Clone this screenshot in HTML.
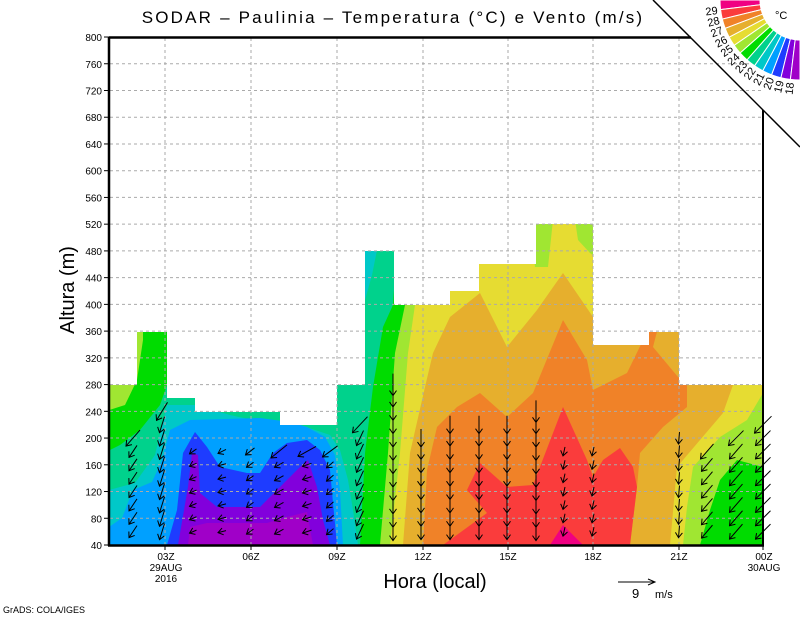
<!DOCTYPE html>
<html><head><meta charset="utf-8"><style>
html,body{margin:0;padding:0;background:#fff}
svg{display:block}
text{font-family:"Liberation Sans","DejaVu Sans",sans-serif;fill:#000}
</style></head><body>
<svg id="s" width="800" height="618" viewBox="0 0 800 618" xmlns="http://www.w3.org/2000/svg">
<defs>
<clipPath id="c">
<polygon points="109,545 109,385 137,385 137,332 167,332 167,398 195,398 195,412 280,412 280,425 337,425 337,385 365,385 365,251 394,251 394,305 450,305 450,291 479,291 479,264 536,264 536,224 593,224 593,345 649,345 649,332 679,332 679,385 763,385 763,545"/>
</clipPath>
</defs>
<g clip-path="url(#c)">
<rect x="109" y="200" width="660" height="350" fill="#00d28c"/>
<polygon fill="#00dc00" points="100,385 100,455 120,445 140,430 160,405 167,385 167,320 137,320"/>
<polygon fill="#a0e632" points="100,380 100,413 125,405 137,380 143,340 143,320 137,320"/>
<polygon fill="#00c8c8" points="109,490 135,483 155,455 167,405 195,405 230,415 262,422 300,425 330,435 340,450 348,480 353,510 358,545 109,545"/>
<polygon fill="#00a0ff" points="109,527 122,518 133,490 152,482 162,460 170,430 190,420 260,418 290,422 307,427 325,437 335,455 340,490 343,545 109,545"/>
<polygon fill="#1e3cff" points="167,545 177,510 183,453 195,432 207,447 220,467 247,473 260,473 273,453 287,443 307,440 320,450 330,470 333,503 337,545"/>
<polygon fill="#8200dc" points="178,545 188,487 192,453 198,455 200,493 217,507 260,507 280,487 300,467 308,460 317,487 323,520 330,545"/>
<polygon fill="#a000c8" points="188,545 190,527 207,523 267,523 287,517 307,512 313,545"/>
<polygon fill="#00c8c8" points="365,245 378,245 372,275 365,300"/>
<polygon fill="#00dc00" points="393,305 383,327 373,387 365,453 360,545 770,545 770,200 400,200"/>
<polygon fill="#a0e632" points="405,305 395,353 388,453 380,545 770,545 770,200 410,200"/>
<polygon fill="#e6dc32" points="415,305 408,353 400,453 390,545 770,545 770,200 420,200"/>
<polygon fill="#a0e632" points="530,220 553,220 548,267 535,267"/>
<polygon fill="#a0e632" points="575,220 600,220 600,260 590,253 578,240"/>
<polygon fill="#e6af2d" points="403,545 410,453 425,387 433,353 450,317 480,293 507,347 537,310 563,273 593,317 593,300 700,300 733,385 723,413 700,440 677,467 670,545"/>
<polygon fill="#f08228" points="423,545 427,470 437,427 457,407 480,393 507,417 533,393 563,320 587,360 593,390 627,373 648,330 660,320 653,347 678,377 687,383 687,407 663,427 640,453 637,487 630,545"/>
<polygon fill="#fa3c3c" points="443,545 487,513 467,490 480,463 507,487 533,485 563,407 587,460 593,477 603,460 620,448 633,467 637,487 630,545"/>
<polygon fill="#f00082" points="550,545 563,525 583,545"/>
<polygon fill="#a0e632" points="763,393 747,420 720,437 693,467 687,507 683,545 770,545 770,390"/>
<polygon fill="#00dc00" points="763,467 737,460 720,480 710,510 700,545 770,545 770,460"/>
</g>
<g id="grid" stroke="#aaa" stroke-width="1" stroke-dasharray="3,3"></g>
<g id="arr" stroke="#000" stroke-width="1" fill="none"></g>
<line x1="109" y1="37" x2="109" y2="546" stroke="#000" stroke-width="2.5"/>
<line x1="108" y1="545.5" x2="764" y2="545.5" stroke="#000" stroke-width="2.5"/>
<line x1="109" y1="37.5" x2="691" y2="37.5" stroke="#000" stroke-width="2.5"/>
<line x1="763" y1="110" x2="763" y2="546" stroke="#000" stroke-width="2"/>
<line x1="653" y1="0" x2="800" y2="147" stroke="#000" stroke-width="1.5"/>
<g id="ticks" stroke="#000" stroke-width="1"></g>
<g id="cb"></g>
<text x="393" y="23" font-size="17" text-anchor="middle" letter-spacing="2.2">SODAR – Paulinia – Temperatura (°C) e Vento (m/s)</text>
<text transform="translate(74,290) rotate(-90)" font-size="20" text-anchor="middle">Altura (m)</text>
<text x="435" y="588" font-size="20" text-anchor="middle">Hora (local)</text>
<g font-size="10" text-anchor="middle">
<text x="166" y="560">03Z</text><text x="166" y="571">29AUG</text><text x="166" y="582">2016</text>
<text x="251" y="560">06Z</text><text x="337" y="560">09Z</text><text x="423" y="560">12Z</text>
<text x="508" y="560">15Z</text><text x="593" y="560">18Z</text><text x="679" y="560">21Z</text>
<text x="764" y="560">00Z</text><text x="764" y="571">30AUG</text>
</g>
<line x1="618" y1="582" x2="655" y2="582" stroke="#000"/>
<polyline points="648,579 655,582 648,585" fill="none" stroke="#000"/>
<text x="632" y="598" font-size="13">9</text><text x="655" y="598" font-size="11">m/s</text>
<text x="3" y="613" font-size="9">GrADS: COLA/IGES</text>
<text x="775" y="19" font-size="11">°C</text>
</svg>
<script>
var NS="http://www.w3.org/2000/svg";
function el(p,t,a,txt){var e=document.createElementNS(NS,t);for(var k in a)e.setAttribute(k,a[k]);if(txt)e.textContent=txt;document.getElementById(p).appendChild(e);return e;}
function Y(h){return 545-(h-40)*0.6684;}
for(var h=80;h<=760;h+=40){el("grid","line",{x1:110,y1:Y(h),x2:763,y2:Y(h)});}
[165,251,337,423,508,593,679].forEach(function(x){el("grid","line",{x1:x,y1:38,x2:x,y2:545});el("ticks","line",{x1:x,y1:545,x2:x,y2:550});});
el("ticks","line",{x1:763,y1:545,x2:763,y2:550});
for(var h=40;h<=800;h+=40){el("ticks","line",{x1:104,y1:Y(h),x2:109,y2:Y(h)});
 el("ticks","text",{x:102,y:Y(h)+4,"font-size":10,"text-anchor":"end",stroke:"none"},String(h));}
var cols=[[133,200,-8,12,-14,16],[162,240,-5,16,-11,18],[193,180,-7,3,-7,5],[222,180,-8,2,-8,4],[250,180,-7,5,-9,7],
[279,180,-9,5,-16,13],[307,180,-9,3,-18,10],[330,180,-7,6,-15,11],[360,220,-7,15,-15,16],[393,280,0,18,0,22],
[421,200,0,16,0,18],[450,220,0,16,0,18],[479,220,0,16,0,18],[507,220,0,16,0,18],[536,240,0,18,0,22],
[564,180,-2,9,-2,9],[593,180,-2,9,-2,9],[679,200,-1,12,-1,12],[707,180,-11,13,-13,15],[736,200,-13,15,-15,15],[763,220,-15,15,-17,17]];
cols.forEach(function(c){for(var h=60;h<=c[1];h+=20){var t=(h===c[1]);var dx=t?c[4]:c[2],dy=t?c[5]:c[3];
 var x=c[0],y=Y(h);var x0=x-dx/2,y0=y-dy/2,x1=x+dx/2,y1=y+dy/2;
 el("arr","line",{x1:x0,y1:y0,x2:x1,y2:y1});
 var L=Math.sqrt(dx*dx+dy*dy)||1,ux=dx/L,uy=dy/L,a=5;
 var px=-uy,py=ux;
 el("arr","polyline",{points:(x1-ux*a+px*a*0.7)+","+(y1-uy*a+py*a*0.7)+" "+x1+","+y1+" "+(x1-ux*a-px*a*0.7)+","+(y1-uy*a-py*a*0.7)});
}});
var cols2=["#f00082","#fa3c3c","#f08228","#e6af2d","#e6dc32","#a0e632","#00dc00","#00d28c","#00c8c8","#00a0ff","#1e3cff","#8200dc","#a000c8"];
var labs=["29","28","27","26","25","24","23","22","21","20","19","18"];
var cx=800,cy=0,r1=40,r2=80,n=13,st=90/n;
function P(r,d){var t=d*Math.PI/180;return (cx+r*Math.cos(t)).toFixed(1)+","+(cy+r*Math.sin(t)).toFixed(1);}
for(var i=0;i<n;i++){var a0=180-i*st,a1=180-(i+1)*st;
 el("cb","path",{d:"M"+P(r1,a0)+" L"+P(r2,a0)+" A"+r2+","+r2+" 0 0 0 "+P(r2,a1)+" L"+P(r1,a1)+" A"+r1+","+r1+" 0 0 1 "+P(r1,a0)+" Z",fill:cols2[i],stroke:"#fff","stroke-width":1});}
for(var i=0;i<12;i++){var a=180-(i+1)*st;var t=a*Math.PI/180;var x=cx+83*Math.cos(t),y=cy+83*Math.sin(t);
 el("cb","text",{x:0,y:4,"font-size":11,"text-anchor":"end",transform:"translate("+x.toFixed(1)+","+y.toFixed(1)+") rotate("+(a-180).toFixed(1)+")"},labs[i]);}
</script>
</body></html>
